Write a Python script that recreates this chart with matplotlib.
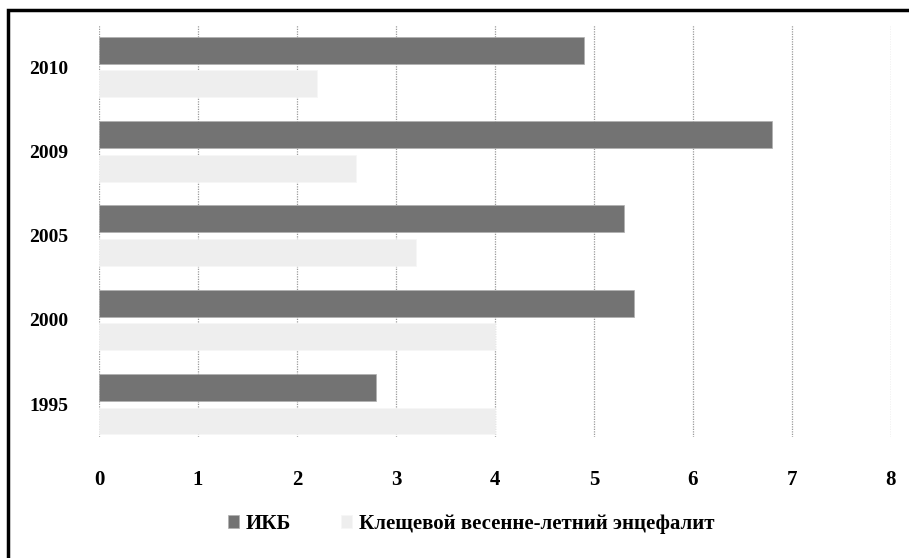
import numpy as np
import matplotlib.pyplot as plt
from matplotlib.patches import Rectangle

years = ['1995', '2000', '2005', '2009', '2010']
ikb = [2.8, 5.4, 5.3, 6.8, 4.9]
kve = [4.0, 4.0, 3.2, 2.6, 2.2]
xticks = list(range(0, 9))

plt.rcParams['font.family'] = ['Liberation Serif', 'DejaVu Serif']

fig = plt.figure(figsize=(9.09, 5.58), dpi=100)
ax = fig.add_axes([99 / 909, 1 - 437 / 558, 792 / 909, 412 / 558])

pos = np.arange(len(years))
h = 0.32
ax.barh(pos + 0.2, ikb, height=h, color='#737373', edgecolor='#b0b0b0',
        linewidth=0.5, label='ИКБ', zorder=3)
ax.barh(pos - 0.2, kve, height=h, color='#eeeeee', edgecolor='#f6f6f6',
        linewidth=0.5, label='Клещевой весенне-летний энцефалит', zorder=3)

ax.set_xlim(0, 8)
ax.set_ylim(-0.39, 4.5)
ax.set_xticks(xticks)
ax.set_xticklabels([str(t) for t in xticks], fontsize=15, fontweight='bold')
ax.set_yticks(pos)
ax.set_yticklabels(years, fontsize=14, fontweight='bold')
ax.tick_params(length=0)
ax.tick_params(axis='x', pad=24)
ax.tick_params(axis='y', pad=22)
ax.grid(axis='x', color='#9a9a9a', linestyle=(0, (1, 1)), linewidth=0.9, zorder=0)
for s in ax.spines.values():
    s.set_visible(False)

fig.legend(loc='center', bbox_to_anchor=(471 / 909, 1 - 524 / 558), ncol=2,
           frameon=False, handlelength=0.55, handleheight=0.55, columnspacing=2.4,
           handletextpad=0.3, prop={'size': 15, 'weight': 'bold'})

# frame around the picture (top and left edges visible)
fig.add_artist(Rectangle((8 / 909, -0.05), 1.2, 1 - 10 / 558 + 0.05,
                         transform=fig.transFigure, fill=False,
                         edgecolor='black', linewidth=2.5))

fig.savefig('out.png', dpi=100)
